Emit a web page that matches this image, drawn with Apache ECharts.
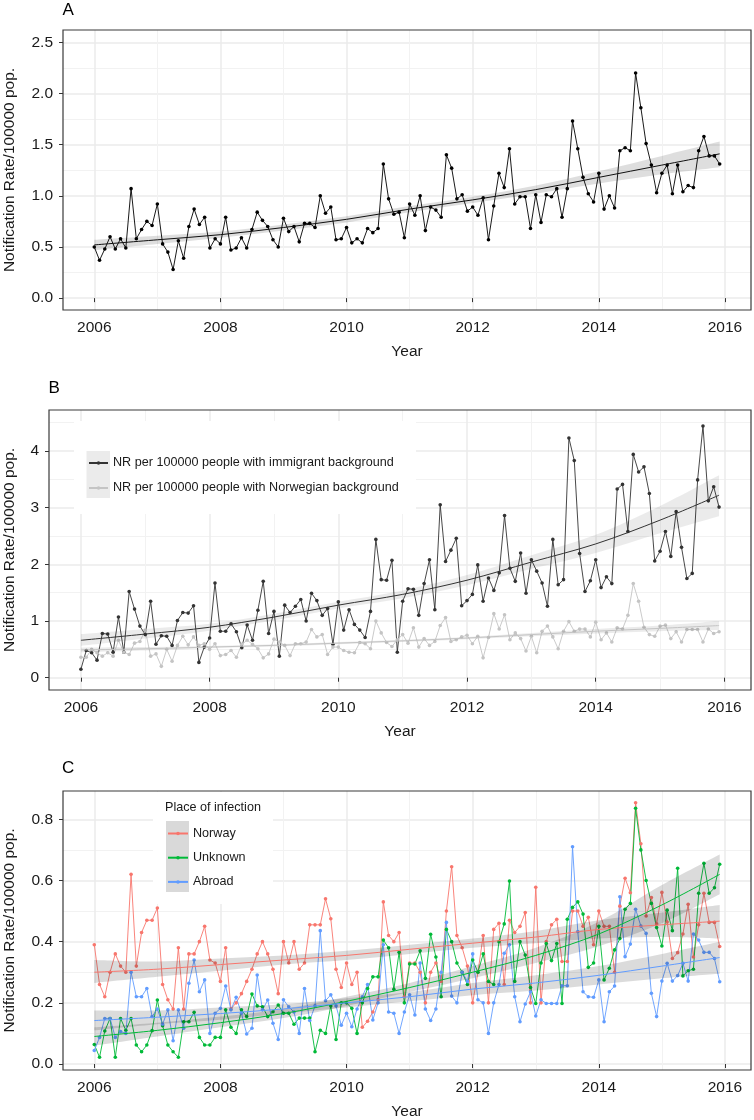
<!DOCTYPE html>
<html>
<head>
<meta charset="utf-8">
<script src="https://cdn.jsdelivr.net/npm/echarts@6/dist/echarts.min.js"></script>
<style>html,body{margin:0;padding:0;background:#fff}#c{width:754px;height:1120px}</style>
</head>
<body>
<div id="c"></div>
<script>
// ---------- data (monthly, Jan 2006 .. Dec 2015) ----------
const startYear = 2006;
const yearTicks = [2006, 2008, 2010, 2012, 2014, 2016];
const aTicks = [0, 0.5, 1, 1.5, 2, 2.5];
const bTicks = [0, 1, 2, 3, 4];
const cTicks = [0, 0.2, 0.4, 0.6, 0.8];

const totalRate = [
  0.50,0.37,0.48,0.60,0.48,0.58,0.49,1.07,0.58,0.67,0.75,0.71,
  0.92,0.53,0.45,0.28,0.56,0.39,0.70,0.87,0.72,0.79,0.49,0.58,
  0.53,0.79,0.47,0.49,0.59,0.49,0.67,0.84,0.76,0.70,0.57,0.50,
  0.78,0.65,0.70,0.55,0.73,0.73,0.69,1.00,0.83,0.89,0.57,0.58,
  0.69,0.54,0.58,0.54,0.68,0.64,0.68,1.31,0.97,0.82,0.84,0.59,
  0.92,0.81,1.00,0.66,0.89,0.86,0.79,1.40,1.27,0.97,1.01,0.85,
  0.89,0.81,0.98,0.57,0.90,1.22,1.08,1.46,0.92,0.99,0.99,0.68,
  1.01,0.74,1.01,0.99,1.07,0.79,1.07,1.73,1.46,1.18,1.02,0.94,
  1.22,0.87,1.00,0.88,1.44,1.47,1.44,2.20,1.86,1.51,1.30,1.03,
  1.22,1.30,1.02,1.30,1.04,1.10,1.08,1.44,1.58,1.39,1.39,1.31];

const immigrantRate = [
  0.15,0.48,0.44,0.31,0.78,0.77,0.45,1.07,0.45,1.52,1.21,0.91,
  0.76,1.35,0.59,0.74,0.73,0.57,1.01,1.15,1.14,1.27,0.27,0.54,
  0.70,1.67,0.82,0.82,0.95,0.81,0.53,0.93,0.66,1.19,1.70,0.78,
  1.17,0.38,1.28,1.15,1.26,1.38,1.00,1.49,1.36,1.10,1.22,0.59,
  1.34,0.84,1.20,0.94,0.84,0.71,1.17,2.44,1.73,1.72,2.07,0.45,
  1.35,1.57,1.56,1.10,1.66,2.08,1.20,3.05,2.05,2.25,2.46,1.27,
  1.36,1.47,1.99,1.35,1.76,1.54,1.85,2.86,1.93,1.70,2.20,1.49,
  2.08,1.88,1.67,1.26,2.44,1.64,1.73,4.23,3.83,2.19,1.52,1.71,
  2.08,1.59,1.78,1.66,3.33,3.41,2.58,3.94,3.63,3.72,3.25,2.06,
  2.23,2.58,2.14,2.93,2.30,1.75,1.84,3.49,4.44,3.12,3.37,3.01];

const norwegianRate = [
  0.36,0.36,0.50,0.44,0.38,0.44,0.38,0.66,0.45,0.41,0.61,0.64,
  0.84,0.38,0.42,0.20,0.50,0.29,0.57,0.73,0.58,0.72,0.57,0.60,
  0.50,0.60,0.39,0.41,0.48,0.36,0.59,0.66,0.59,0.51,0.35,0.42,
  0.68,0.63,0.57,0.39,0.60,0.60,0.63,0.85,0.72,0.76,0.41,0.54,
  0.54,0.48,0.45,0.44,0.62,0.60,0.51,1.00,0.79,0.62,0.55,0.67,
  0.76,0.61,0.88,0.54,0.69,0.57,0.64,0.92,1.06,0.64,0.67,0.72,
  0.75,0.60,0.73,0.35,0.71,1.13,0.86,1.11,0.67,0.79,0.69,0.47,
  0.73,0.44,0.82,0.91,0.72,0.51,0.82,0.99,0.82,0.86,0.86,0.72,
  0.98,0.67,0.79,0.63,0.88,0.86,1.10,1.66,1.35,0.89,0.76,0.73,
  0.91,0.93,0.69,0.81,0.63,0.85,0.85,0.85,0.63,0.86,0.78,0.81];

const norwayRate = [
  0.39,0.26,0.22,0.30,0.36,0.32,0.30,0.62,0.32,0.43,0.47,0.47,
  0.51,0.26,0.21,0.18,0.38,0.18,0.36,0.36,0.40,0.45,0.34,0.33,
  0.27,0.38,0.18,0.20,0.23,0.27,0.31,0.36,0.40,0.36,0.31,0.23,
  0.40,0.33,0.40,0.31,0.33,0.455,0.455,0.455,0.54,0.475,0.31,0.25,
  0.33,0.26,0.30,0.12,0.14,0.17,0.21,0.53,0.42,0.40,0.43,0.22,
  0.33,0.33,0.30,0.20,0.30,0.33,0.27,0.50,0.645,0.42,0.38,0.32,
  0.20,0.30,0.42,0.20,0.44,0.46,0.26,0.47,0.43,0.45,0.495,0.20,
  0.578,0.20,0.40,0.455,0.473,0.335,0.335,0.50,0.50,0.45,0.48,0.39,
  0.50,0.45,0.45,0.30,0.516,0.607,0.56,0.854,0.72,0.484,0.544,0.458,
  0.561,0.464,0.345,0.364,0.425,0.522,0.35,0.455,0.558,0.463,0.463,0.384];

const unknownRate = [
  0.064,0.022,0.108,0.149,0.022,0.149,0.11,0.149,0.062,0.04,0.062,0.109,
  0.209,0.125,0.062,0.04,0.022,0.138,0.138,0.169,0.087,0.062,0.062,0.087,
  0.087,0.177,0.12,0.10,0.177,0.155,0.229,0.19,0.187,0.155,0.171,0.193,
  0.166,0.166,0.13,0.15,0.15,0.15,0.04,0.11,0.10,0.19,0.08,0.20,
  0.20,0.182,0.10,0.20,0.247,0.285,0.285,0.405,0.38,0.244,0.365,0.20,
  0.327,0.327,0.37,0.28,0.424,0.35,0.22,0.44,0.40,0.33,0.30,0.26,
  0.34,0.30,0.36,0.27,0.26,0.40,0.458,0.598,0.27,0.40,0.356,0.25,
  0.198,0.33,0.394,0.338,0.394,0.198,0.473,0.512,0.53,0.49,0.316,0.33,
  0.45,0.275,0.313,0.373,0.41,0.506,0.525,0.836,0.70,0.60,0.525,0.446,
  0.386,0.503,0.436,0.64,0.288,0.305,0.31,0.558,0.656,0.558,0.576,0.653];

const abroadRate = [
  0.044,0.087,0.149,0.149,0.087,0.106,0.10,0.30,0.22,0.22,0.247,0.155,
  0.18,0.13,0.177,0.076,0.177,0.117,0.264,0.34,0.236,0.275,0.10,0.166,
  0.182,0.255,0.177,0.218,0.166,0.098,0.117,0.291,0.177,0.209,0.133,0.08,
  0.21,0.187,0.17,0.10,0.247,0.142,0.19,0.436,0.207,0.226,0.19,0.127,
  0.166,0.122,0.18,0.22,0.26,0.144,0.20,0.39,0.17,0.166,0.10,0.17,
  0.226,0.16,0.33,0.18,0.142,0.18,0.30,0.463,0.222,0.20,0.30,0.27,
  0.36,0.21,0.20,0.10,0.20,0.26,0.362,0.39,0.22,0.138,0.196,0.236,
  0.157,0.21,0.198,0.198,0.198,0.256,0.256,0.71,0.433,0.236,0.22,0.218,
  0.275,0.138,0.236,0.255,0.547,0.351,0.392,0.506,0.451,0.427,0.231,0.155,
  0.271,0.329,0.271,0.289,0.329,0.271,0.425,0.405,0.365,0.365,0.345,0.269];

// fitted trend lines with confidence band, read at yearly knots
const fitYears = [2006, 2007, 2008, 2009, 2010, 2011, 2012, 2013, 2014, 2015, 2015.917];
const totalFit = [0.52, 0.57, 0.62, 0.69, 0.77, 0.87, 0.96, 1.06, 1.18, 1.30, 1.41];
const totalLo  = [0.47, 0.53, 0.59, 0.66, 0.74, 0.84, 0.93, 1.02, 1.12, 1.21, 1.28];
const totalHi  = [0.57, 0.61, 0.65, 0.72, 0.80, 0.90, 0.99, 1.10, 1.24, 1.39, 1.53];
const immFit = [0.66, 0.77, 0.89, 1.07, 1.28, 1.47, 1.72, 2.04, 2.36, 2.78, 3.22];
const immLo  = [0.56, 0.69, 0.83, 1.01, 1.22, 1.40, 1.63, 1.92, 2.20, 2.55, 2.85];
const immHi  = [0.77, 0.86, 0.95, 1.13, 1.34, 1.54, 1.81, 2.16, 2.52, 3.03, 3.57];
const norFit = [0.49, 0.51, 0.54, 0.57, 0.61, 0.65, 0.70, 0.76, 0.82, 0.87, 0.92];
const norLo  = [0.45, 0.48, 0.52, 0.55, 0.59, 0.63, 0.68, 0.73, 0.78, 0.82, 0.84];
const norHi  = [0.53, 0.54, 0.56, 0.59, 0.63, 0.67, 0.72, 0.79, 0.86, 0.92, 1.00];
const norwayFit = [0.30, 0.31, 0.325, 0.34, 0.355, 0.375, 0.395, 0.415, 0.44, 0.455, 0.467];
const norwayLo  = [0.265, 0.285, 0.305, 0.325, 0.34, 0.36, 0.38, 0.395, 0.41, 0.415, 0.41];
const norwayHi  = [0.34, 0.335, 0.345, 0.355, 0.37, 0.39, 0.41, 0.435, 0.47, 0.495, 0.52];
const unknownFit = [0.09, 0.11, 0.135, 0.165, 0.205, 0.25, 0.30, 0.355, 0.425, 0.52, 0.62];
const unknownLo  = [0.06, 0.09, 0.12, 0.15, 0.19, 0.235, 0.28, 0.33, 0.385, 0.46, 0.555];
const unknownHi  = [0.12, 0.135, 0.155, 0.18, 0.22, 0.265, 0.32, 0.38, 0.465, 0.585, 0.685];
const abroadFit = [0.142, 0.153, 0.165, 0.18, 0.20, 0.22, 0.245, 0.265, 0.29, 0.32, 0.348];
const abroadLo  = [0.11, 0.13, 0.145, 0.165, 0.185, 0.205, 0.225, 0.24, 0.26, 0.28, 0.295];
const abroadHi  = [0.175, 0.175, 0.185, 0.195, 0.215, 0.235, 0.265, 0.29, 0.32, 0.36, 0.40];

// ---------- chart ----------
const FONT = 'Liberation Sans, Arial, sans-serif';
const TXT = '#1a1a1a';
const IMM = 'NR per 100000 people with immigrant background';
const NOR = 'NR per 100000 people with Norwegian background';
const SMOOTH = 0.33;

const monthX = i => startYear + i / 12;

function dataLine(name, values, color, gi) {
  return {
    type: 'line', name: name, xAxisIndex: gi, yAxisIndex: gi,
    data: values.map((v, i) => [monthX(i), v]),
    symbol: 'circle', symbolSize: 3.6, showSymbol: true, showAllSymbol: true,
    lineStyle: { color: color, width: 0.9 }, itemStyle: { color: color },
    z: 2, silent: true, animation: false
  };
}

// Catmull-Rom style smooth path through pixel points (drawing helper only)
function smoothSegments(P) {
  let d = '';
  for (let i = 0; i < P.length - 1; i++) {
    const p0 = P[Math.max(i - 1, 0)], p1 = P[i], p2 = P[i + 1], p3 = P[Math.min(i + 2, P.length - 1)];
    const c1 = [p1[0] + (p2[0] - p0[0]) / 6, p1[1] + (p2[1] - p0[1]) / 6];
    const c2 = [p2[0] - (p3[0] - p1[0]) / 6, p2[1] - (p3[1] - p1[1]) / 6];
    d += ' C' + c1[0] + ',' + c1[1] + ' ' + c2[0] + ',' + c2[1] + ' ' + p2[0] + ',' + p2[1];
  }
  return d;
}
function band(key, lo, hi, gi, fill) {
  return {
    type: 'custom', name: key + '_band', xAxisIndex: gi, yAxisIndex: gi,
    coordinateSystem: 'cartesian2d', clip: true, silent: true, z: 3, animation: false,
    data: fitYears.map((x, i) => [x, lo[i], hi[i]]),
    encode: { x: 0, y: [1, 2] },
    renderItem: function (params, api) {
      if (params.dataIndex !== 0) return null;
      const up = fitYears.map((x, i) => api.coord([x, hi[i]]));
      const dn = fitYears.map((x, i) => api.coord([x, lo[i]])).reverse();
      const d = 'M' + up[0][0] + ',' + up[0][1] + smoothSegments(up) +
                ' L' + dn[0][0] + ',' + dn[0][1] + smoothSegments(dn) + ' Z';
      return { type: 'path', shape: { pathData: d }, style: { fill: fill, stroke: null } };
    }
  };
}
function fitLine(key, fit, color, gi) {
  return {
    type: 'line', name: key + '_fit', xAxisIndex: gi, yAxisIndex: gi,
    data: fitYears.map((x, i) => [x, fit[i]]), smooth: SMOOTH, symbol: 'none',
    lineStyle: { color: color, width: 1 }, z: 4, silent: true, animation: false
  };
}

const xRange = [2005.504, 2016.413];
function xAxis(gi) {
  return {
    gridIndex: gi, type: 'value', min: xRange[0], max: xRange[1],
    axisLine: { show: false },
    axisTick: { show: true, length: 4, customValues: yearTicks, lineStyle: { color: '#333', width: 1 } },
    axisLabel: { customValues: yearTicks, margin: 10, color: TXT, fontSize: 15.5, fontFamily: FONT, formatter: v => String(v) },
    splitLine: { show: true, lineStyle: { color: '#ebebeb', width: 1.5 } },
    minorTick: { show: false, splitNumber: 2 },
    minorSplitLine: { show: true, lineStyle: { color: '#f2f2f2', width: 1 } },
    name: 'Year', nameLocation: 'middle', nameGap: 34,
    nameTextStyle: { color: TXT, fontSize: 15.5, fontFamily: FONT }
  };
}
function yAxis(gi, min, max, ticks, digits, gap) {
  return {
    gridIndex: gi, type: 'value', min: min, max: max,
    axisLine: { show: false },
    axisTick: { show: true, length: 4, customValues: ticks, lineStyle: { color: '#333', width: 1 } },
    axisLabel: { customValues: ticks, margin: 10, color: TXT, fontSize: 15.5, fontFamily: FONT, formatter: v => v.toFixed(digits) },
    splitLine: { show: true, lineStyle: { color: '#ebebeb', width: 1.5 } },
    minorTick: { show: false, splitNumber: 2 },
    minorSplitLine: { show: true, lineStyle: { color: '#f2f2f2', width: 1 } },
    name: 'Notification Rate/100000 pop.', nameLocation: 'middle', nameGap: gap,
    nameTextStyle: { color: TXT, fontSize: 15.5, fontFamily: FONT }
  };
}

const gridBase = { show: true, borderColor: '#3a3a3a', borderWidth: 1.2, backgroundColor: 'transparent', z: 5,
                   containLabel: false, outerBoundsMode: 'none' };

const option = {
  animation: false,
  backgroundColor: '#ffffff',
  textStyle: { fontFamily: FONT },
  title: [
    { text: 'A', left: 62.5, top: 2, padding: 0, textStyle: { fontSize: 17, fontWeight: 'normal', color: '#000', fontFamily: FONT } },
    { text: 'B', left: 48.5, top: 380, padding: 0, textStyle: { fontSize: 17, fontWeight: 'normal', color: '#000', fontFamily: FONT } },
    { text: 'C', left: 62, top: 760, padding: 0, textStyle: { fontSize: 17, fontWeight: 'normal', color: '#000', fontFamily: FONT } },
    { text: 'Place of infection', left: 165, top: 801.5, padding: 0, z: 20, textStyle: { fontSize: 12.6, fontWeight: 'normal', color: TXT, fontFamily: FONT } }
  ],
  grid: [
    Object.assign({ left: 63, top: 30, width: 688, height: 280 }, gridBase),
    Object.assign({ left: 49, top: 410, width: 702, height: 280 }, gridBase),
    Object.assign({ left: 63, top: 791, width: 688, height: 279 }, gridBase)
  ],
  xAxis: [xAxis(0), xAxis(1), xAxis(2)],
  yAxis: [
    yAxis(0, -0.116, 2.62, aTicks, 1, 45),
    yAxis(1, -0.217, 4.723, bTicks, 0, 31),
    yAxis(2, -0.0196, 0.8925, cTicks, 1, 45)
  ],
  legend: [
    { data: [IMM, NOR], orient: 'vertical', left: 88, top: 456.5, itemWidth: 19, itemHeight: 4.4, itemGap: 12,
      padding: 0, selectedMode: false, z: 20, textStyle: { fontSize: 12.6, color: TXT, fontFamily: FONT } },
    { data: ['Norway', 'Unknown', 'Abroad'], orient: 'vertical', left: 167, top: 827, itemWidth: 20, itemHeight: 4.4, itemGap: 11.2,
      padding: 0, selectedMode: false, z: 20, textStyle: { fontSize: 12.6, color: TXT, fontFamily: FONT } }
  ],
  graphic: [
    { type: 'rect', shape: { x: 74, y: 421, width: 342, height: 93 }, style: { fill: '#ffffff' }, z: 15, silent: true },
    { type: 'rect', shape: { x: 86.5, y: 451, width: 23.5, height: 47 }, style: { fill: '#ebebeb' }, z: 16, silent: true },
    { type: 'rect', shape: { x: 153, y: 792, width: 120, height: 112 }, style: { fill: '#ffffff' }, z: 15, silent: true },
    { type: 'rect', shape: { x: 166, y: 821, width: 23, height: 71 }, style: { fill: '#d9d9d9' }, z: 16, silent: true }
  ],
  series: [
    dataLine('Total', totalRate, '#000000', 0),
    band('a', totalLo, totalHi, 0, 'rgba(0,0,0,0.13)'),
    fitLine('a', totalFit, '#111111', 0),

    dataLine(IMM, immigrantRate, '#333333', 1),
    dataLine(NOR, norwegianRate, '#c4c4c4', 1),
    band('bi', immLo, immHi, 1, 'rgba(0,0,0,0.08)'),
    band('bn', norLo, norHi, 1, 'rgba(0,0,0,0.08)'),
    fitLine('bi', immFit, '#333333', 1),
    fitLine('bn', norFit, '#c4c4c4', 1),

    dataLine('Norway', norwayRate, '#F8766D', 2),
    dataLine('Unknown', unknownRate, '#00BA38', 2),
    dataLine('Abroad', abroadRate, '#619CFF', 2),
    band('cn', norwayLo, norwayHi, 2, 'rgba(0,0,0,0.14)'),
    band('cu', unknownLo, unknownHi, 2, 'rgba(0,0,0,0.14)'),
    band('ca', abroadLo, abroadHi, 2, 'rgba(0,0,0,0.14)'),
    fitLine('cn', norwayFit, '#F8766D', 2),
    fitLine('cu', unknownFit, '#00BA38', 2),
    fitLine('ca', abroadFit, '#619CFF', 2)
  ]
};

const chart = echarts.init(document.getElementById('c'), null, { renderer: 'canvas', width: 754, height: 1120 });
chart.setOption(option);
</script>
</body>
</html>
